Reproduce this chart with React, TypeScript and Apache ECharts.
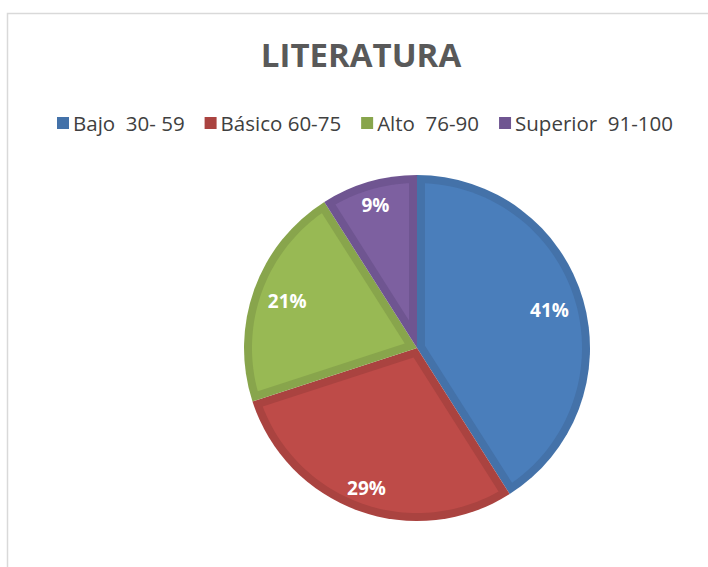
import React, { useEffect, useRef } from "react";
import * as echarts from "echarts";

const title = "LITERATURA";
const categories = ["Bajo  30- 59", "Básico 60-75", "Alto  76-90", "Superior  91-100"];
const values = [41, 29, 21, 9];
const lightColors = ["#4A7EBB", "#BE4B48", "#98B954", "#7D60A0"];
const darkColors = ["#4472A9", "#AA4340", "#88A54C", "#6F5591"];

export default function App() {
  const ref = useRef<HTMLDivElement>(null);
  useEffect(() => {
    document.body.style.margin = "0";
    const chart = echarts.init(ref.current!, null, { renderer: "svg" });
    const R = 173;
    const cx = 417;
    const cy = 348;
    const band = 8;
    const total = values.reduce((a, b) => a + b, 0);
    const cum: number[] = [0];
    values.forEach((v, i) => cum.push(cum[i] + v));
    const base = categories.map((name, i) => ({ name, value: values[i] }));
    const labelStyle = {
      show: true,
      position: "inside",
      formatter: "{d}%",
      fontFamily: "Open Sans",
      fontWeight: "bold",
      fontSize: 19,
      color: "#ffffff",
    };
    const labelSeries = (inner: number, shown: number[]) => ({
      type: "pie",
      z: 5,
      center: [cx, cy],
      radius: [inner, R],
      startAngle: 90,
      clockwise: true,
      silent: true,
      itemStyle: { color: "rgba(0,0,0,0)" },
      label: labelStyle,
      labelLine: { show: false },
      data: base.map((d, i) => ({ ...d, label: { show: shown.includes(i) } })),
    });
    chart.setOption({
      animation: false,
      backgroundColor: "#ffffff",
      title: {
        text: title,
        left: 356,
        textAlign: "center",
        top: 33,
        textStyle: { fontFamily: "Open Sans", fontWeight: "bold", fontSize: 33, color: "#595959" },
      },
      legend: {
        data: categories,
        top: 111,
        left: 57,
        padding: 0,
        itemWidth: 12,
        itemHeight: 12,
        itemGap: 20,
        icon: "rect",
        textStyle: { fontFamily: "Open Sans", fontSize: 20.5, lineHeight: 24, color: "#404040", padding: [0, 0, 0, -1] },
      },
      graphic: [
        {
          type: "rect",
          shape: { x: 7.5, y: 13.5, width: 760, height: 640 },
          style: { fill: "none", stroke: "#d9d9d9", lineWidth: 1.5 },
          silent: true,
        },
      ],
      series: [
        {
          type: "pie",
          z: 1,
          center: [cx, cy],
          radius: [0, R],
          startAngle: 90,
          clockwise: true,
          silent: true,
          label: { show: false },
          labelLine: { show: false },
          data: base.map((d, i) => ({ ...d, itemStyle: { color: darkColors[i] } })),
        },
        {
          type: "custom",
          z: 3,
          coordinateSystem: "none",
          silent: true,
          data: values,
          renderItem: (params: any, api: any) => {
            const i = params.dataIndex;
            const a0 = (cum[i] / total) * Math.PI * 2;
            const a1 = (cum[i + 1] / total) * Math.PI * 2;
            const half = (a1 - a0) / 2;
            const mid = (a0 + a1) / 2;
            const rIn = R - band;
            const apexDist = band / Math.sin(half);
            const delta = Math.asin(band / rIn);
            const pt = (a: number, r: number) => [cx + r * Math.sin(a), cy - r * Math.cos(a)];
            const points: number[][] = [pt(mid, apexDist)];
            const s = a0 + delta;
            const e = a1 - delta;
            const steps = 60;
            for (let k = 0; k <= steps; k++) {
              points.push(pt(s + ((e - s) * k) / steps, rIn));
            }
            return {
              type: "polygon",
              z2: 10,
              shape: { points },
              style: { fill: lightColors[i], stroke: "none" },
            };
          },
        },
        labelSeries(R * 0.56, [0, 2]),
        labelSeries(R * 0.69, [1, 3]),
      ],
    });
    return () => chart.dispose();
  }, []);
  return <div ref={ref} style={{ position: "absolute", left: 0, top: 0, width: 708, height: 567 }} />;
}
